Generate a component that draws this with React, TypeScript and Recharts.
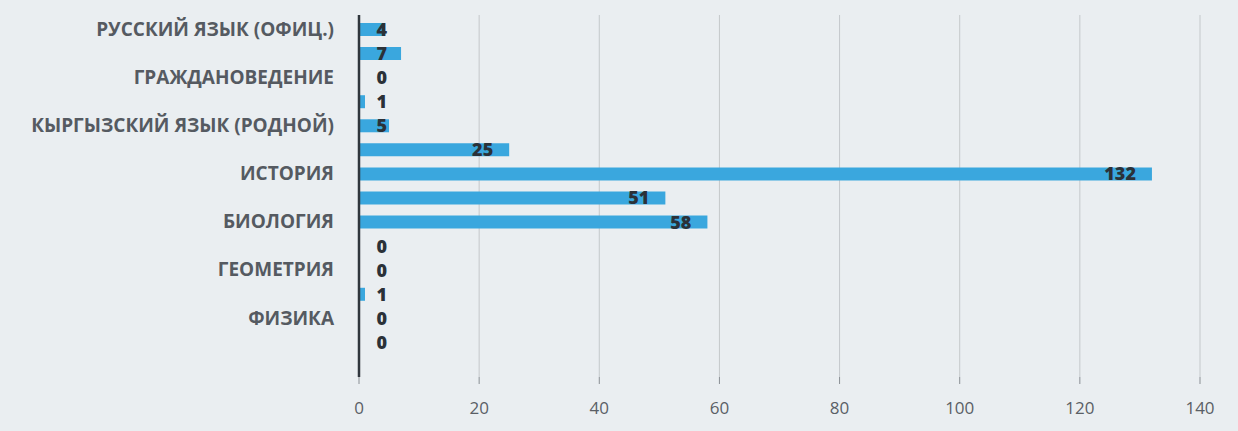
import { BarChart, Bar, XAxis, YAxis, CartesianGrid, LabelList, Rectangle } from 'recharts'

// every other category label is hidden on the axis in the original
const categories = [
  'РУССКИЙ ЯЗЫК (ОФИЦ.)', '',
  'ГРАЖДАНОВЕДЕНИЕ', '',
  'КЫРГЫЗСКИЙ ЯЗЫК (РОДНОЙ)', '',
  'ИСТОРИЯ', '',
  'БИОЛОГИЯ', '',
  'ГЕОМЕТРИЯ', '',
  'ФИЗИКА', '',
]
const counts = [4, 7, 0, 1, 5, 25, 132, 51, 58, 0, 0, 1, 0, 0]
const xTicks = [0, 20, 40, 60, 80, 100, 120, 140]

const data = categories.map((name, i) => ({ name, value: counts[i] }))

const FONT = '"Open Sans", Lato, sans-serif'

function ValueLabel(props: any) {
  const { x, y, width, height, value } = props
  const endX = Math.max(x + width - 16, x + 28)
  return (
    <text x={endX} y={y + height / 2} dy="0.36em" textAnchor="end"
      fontFamily={FONT} fontWeight={800} fontSize={18} fill="#2b3138">
      {value}
    </text>
  )
}

// zero bars keep a 1px slot so their label is drawn, but no visible rect
function BarShape(props: any) {
  if (!props.value) return <g />
  return <Rectangle {...props} />
}

export default function App() {
  return (
    <div style={{ position: 'fixed', left: 0, top: 0, width: 1238, height: 431, background: '#eaeef1' }}>
      <BarChart width={1238} height={431} data={data} layout="vertical"
        margin={{ top: 15, right: 38, left: 0, bottom: 24 }} barSize={13}>
        <CartesianGrid horizontal={false} stroke="#c4c8cb" />
        <XAxis type="number" domain={[0, 140]} ticks={xTicks} axisLine={false}
          tickLine={{ stroke: '#8a8f94' }} tickSize={7} tickMargin={18} height={30}
          tick={{ fill: '#5a5f66', fontSize: 17, fontFamily: FONT }} />
        <YAxis type="category" dataKey="name" width={359} interval={1}
          padding={{ top: 2, bottom: 23 }}
          axisLine={{ stroke: '#30363d', strokeWidth: 2.5 }} tickLine={false} tickSize={0} tickMargin={25}
          tick={{ fill: '#555a61', fontSize: 19, fontWeight: 700, fontFamily: FONT }} />
        <Bar dataKey="value" fill="#3aa7de" minPointSize={1} shape={BarShape} isAnimationActive={false}>
          <LabelList dataKey="value" content={ValueLabel} />
        </Bar>
      </BarChart>
    </div>
  )
}
